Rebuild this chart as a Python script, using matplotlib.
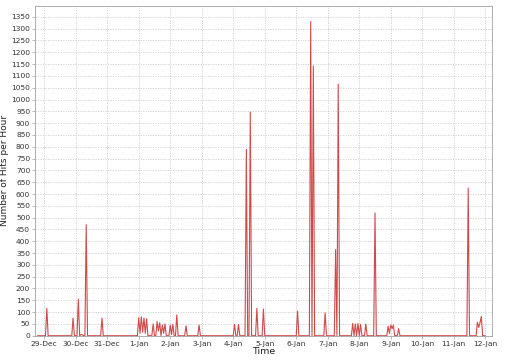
import matplotlib
matplotlib.use('Agg')
import matplotlib.pyplot as plt
import matplotlib.dates as mdates
import pandas as pd
import numpy as np

# hourly hits, only the non-zero hours are listed
spike_times = [
    '2010-12-29 02:00', '2010-12-29 22:00', '2010-12-30 02:00', '2010-12-30 04:00',
    '2010-12-30 05:00', '2010-12-30 08:00', '2010-12-30 20:00',
    '2011-01-01 00:00', '2011-01-01 01:00', '2011-01-01 02:00', '2011-01-01 03:00',
    '2011-01-01 04:00', '2011-01-01 05:00', '2011-01-01 06:00', '2011-01-01 11:00',
    '2011-01-01 14:00', '2011-01-01 15:00', '2011-01-01 16:00', '2011-01-01 18:00',
    '2011-01-01 19:00', '2011-01-01 20:00',
    '2011-01-02 00:00', '2011-01-02 01:00', '2011-01-02 02:00', '2011-01-02 05:00',
    '2011-01-02 12:00', '2011-01-02 22:00',
    '2011-01-04 01:00', '2011-01-04 04:00', '2011-01-04 10:00', '2011-01-04 13:00',
    '2011-01-04 18:00', '2011-01-04 23:00',
    '2011-01-06 01:00', '2011-01-06 11:00', '2011-01-06 13:00', '2011-01-06 22:00',
    '2011-01-07 06:00', '2011-01-07 08:00', '2011-01-07 19:00', '2011-01-07 21:00',
    '2011-01-07 23:00', '2011-01-08 01:00', '2011-01-08 05:00', '2011-01-08 12:00',
    '2011-01-08 22:00', '2011-01-08 23:00', '2011-01-09 00:00', '2011-01-09 01:00',
    '2011-01-09 02:00', '2011-01-09 06:00',
    '2011-01-11 11:00', '2011-01-11 18:00', '2011-01-11 19:00', '2011-01-11 20:00',
    '2011-01-11 21:00',
]
spike_hits = [
    116, 75, 155, 5,
    4, 470, 75,
    76, 10, 80, 15,
    75, 10, 72, 50,
    60, 20, 55, 45,
    10, 50,
    45, 5, 48, 88,
    42, 45,
    48, 48, 789, 947,
    116, 113,
    105, 1330, 1142, 97,
    365, 1065, 52, 50,
    52, 48, 50, 520,
    40, 10, 45, 30,
    45, 30,
    625, 57, 35, 55,
    82,
]

start = '2010-12-28 19:00'
end = '2011-01-12 00:00'

hours = pd.date_range(start, end, freq='h')
hits = pd.Series(0.0, index=hours)
hits[pd.to_datetime(spike_times)] = spike_hits

fig = plt.figure(figsize=(5.06, 3.64), dpi=100)
ax = fig.add_axes([0.0692, 0.0777, 0.9028, 0.9058])

ax.plot(hits.index, hits.values, color='#d04a4a', linewidth=0.8)

ax.set_xlim(pd.Timestamp('2010-12-28 17:00'), pd.Timestamp('2011-01-12 05:00'))
ax.set_ylim(0, 1396)
ax.set_yticks(np.arange(0, 1351, 50))
ax.xaxis.set_major_locator(mdates.DayLocator())
ax.xaxis.set_major_formatter(mdates.DateFormatter('%-d-%b'))

ax.grid(True, color='#cfcfcf', linestyle=(0, (1.5, 1.5)), linewidth=0.6)
for s in ax.spines.values():
    s.set_color('#a0a0a0')
    s.set_linewidth(0.6)
ax.tick_params(labelsize=5.4, colors='#333333', length=2, width=0.5, pad=1.5)
ax.tick_params(color='#a0a0a0')

ax.set_ylabel('Number of Hits per Hour', fontsize=6.5, color='#222222')
ax.yaxis.set_label_coords(-0.058, 0.5)
ax.set_xlabel('Time', fontsize=6.8, color='#222222', labelpad=0)

plt.savefig('out.png', dpi=100)
